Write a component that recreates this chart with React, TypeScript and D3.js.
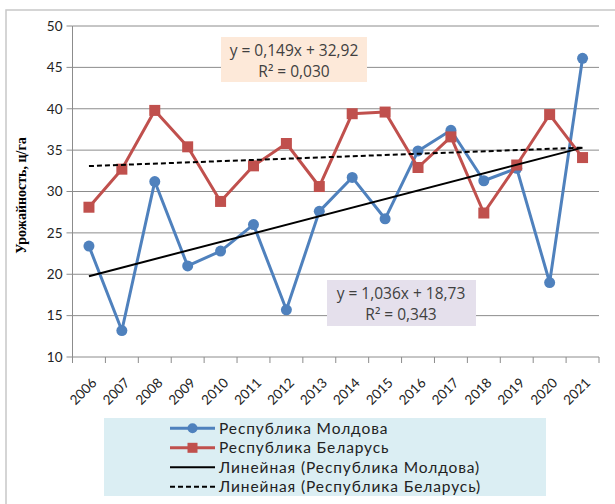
import React from "react";
import * as d3 from "d3";

const years = ["2006","2007","2008","2009","2010","2011","2012","2013","2014","2015","2016","2017","2018","2019","2020","2021"];
const moldova = [23.4,13.2,31.2,21.0,22.8,26.0,15.7,27.6,31.7,26.7,34.9,37.4,31.3,32.8,19.0,46.1];
const belarus = [28.1,32.7,39.8,35.4,28.8,33.1,35.8,30.6,39.4,39.6,32.9,36.6,27.4,33.2,39.3,34.1];
const yTicks = [10,15,20,25,30,35,40,45,50];
const trendMoldova = [1.036, 18.73];
const trendBelarus = [0.149, 32.92];
const eqMoldova = ["y = 1,036x + 18,73", "R² = 0,343"];
const eqBelarus = ["y = 0,149x + 32,92", "R² = 0,030"];
const legendLabels = ["Республика Молдова","Республика Беларусь","Линейная (Республика Молдова)","Линейная (Республика Беларусь)"];

const W = 615, H = 504;
const left = 72.5, right = 599, top = 26, bottom = 357;
const FONT = "Lato, 'Open Sans', sans-serif";
const FONT2 = "'Open Sans', Lato, sans-serif";
const BLUE = "#4F81BD", RED = "#C0504D";

export default function App() {
  const x = d3.scaleBand().domain(years).range([left, right]);
  const cx = (i: number) => (x(years[i]) as number) + x.bandwidth() / 2;
  const y = d3.scaleLinear().domain([10, 50]).range([bottom, top]);
  const line = d3.line<number>().x((_, i) => cx(i)).y(d => y(d));
  const trend = (c: number[]) => {
    const n = years.length;
    return `M${cx(0)},${y(c[0] * 1 + c[1])}L${cx(n - 1)},${y(c[0] * n + c[1])}`;
  };
  const boundaries = d3.range(years.length + 1).map(i => left + i * x.step());

  return (
    <svg width={W} height={H} style={{ position: "absolute", left: 0, top: 0, background: "#fff" }}>
      <rect x={6} y={10} width={640} height={520} fill="#fff" stroke="#c8c8c8" strokeWidth={1.5} />
      {yTicks.map(t => (
        <g key={t}>
          {t > 10 && <line x1={left} x2={right} y1={y(t)} y2={y(t)} stroke="#8c8c8c" strokeWidth={1} />}
          <line x1={left - 6} x2={left} y1={y(t)} y2={y(t)} stroke="#8c8c8c" strokeWidth={1} />
          <text x={left - 10} y={y(t)} dy="0.36em" textAnchor="end" fontFamily={FONT} fontSize={13.5} fill="#222">{t}</text>
        </g>
      ))}
      <line x1={left} x2={left} y1={top} y2={bottom} stroke="#8c8c8c" strokeWidth={1} />
      <line x1={left} x2={right} y1={bottom} y2={bottom} stroke="#8c8c8c" strokeWidth={1} />
      {boundaries.map((b, i) => (
        <line key={i} x1={b} x2={b} y1={bottom} y2={bottom + 6} stroke="#8c8c8c" strokeWidth={1} />
      ))}
      {years.map((yr, i) => (
        <text key={yr} transform={`translate(${cx(i) + 2},${bottom + 20}) rotate(-45)`} textAnchor="end" dy="0.7em" fontFamily={FONT} fontSize={13.5} fill="#222">{yr}</text>
      ))}
      <text transform={`translate(26,${(top + bottom) / 2 + 4}) rotate(-90)`} textAnchor="middle" fontFamily="'Liberation Serif', 'Times New Roman', serif" fontWeight="bold" fontSize={14} fill="#000">Урожайность, ц/га</text>

      <rect x={221} y={37} width={146} height={45} fill="#FDE9D9" />
      <text x={294} y={56} textAnchor="middle" fontFamily={FONT2} fontSize={15.5} fill="#404040">{eqBelarus[0]}</text>
      <text x={294} y={77} textAnchor="middle" fontFamily={FONT2} fontSize={15.5} fill="#404040">{eqBelarus[1]}</text>

      <path d={line(moldova) as string} fill="none" stroke={BLUE} strokeWidth={3} strokeLinejoin="round" />
      {moldova.map((v, i) => <circle key={i} cx={cx(i)} cy={y(v)} r={5.5} fill={BLUE} />)}
      <path d={line(belarus) as string} fill="none" stroke={RED} strokeWidth={3} strokeLinejoin="round" />
      {belarus.map((v, i) => <rect key={i} x={cx(i) - 5.5} y={y(v) - 5.5} width={11} height={11} fill={RED} />)}

      <path d={trend(trendMoldova)} stroke="#000" strokeWidth={2} fill="none" />
      <path d={trend(trendBelarus)} stroke="#000" strokeWidth={2} strokeDasharray="5,3" fill="none" />

      <rect x={327} y={280} width={149} height={46} fill="#E5E0EC" />
      <text x={401} y={299} textAnchor="middle" fontFamily={FONT2} fontSize={15.5} fill="#404040">{eqMoldova[0]}</text>
      <text x={401} y={320} textAnchor="middle" fontFamily={FONT2} fontSize={15.5} fill="#404040">{eqMoldova[1]}</text>

      <rect x={104} y={418} width={442} height={78} fill="#DBEEF3" />
      {legendLabels.map((lab, i) => {
        const ly = 428.3 + i * 19.5;
        return (
          <g key={lab}>
            {i === 0 && <><line x1={170} x2={215} y1={ly} y2={ly} stroke={BLUE} strokeWidth={3} /><circle cx={192.5} cy={ly} r={5} fill={BLUE} /></>}
            {i === 1 && <><line x1={170} x2={215} y1={ly} y2={ly} stroke={RED} strokeWidth={3} /><rect x={187.5} y={ly - 5} width={10} height={10} fill={RED} /></>}
            {i === 2 && <line x1={170} x2={215} y1={ly} y2={ly} stroke="#000" strokeWidth={2} />}
            {i === 3 && <line x1={170} x2={215} y1={ly} y2={ly} stroke="#000" strokeWidth={2} strokeDasharray="5,3" />}
            <text x={219} y={ly} dy="0.36em" fontFamily={FONT} fontSize={15.5} letterSpacing={0.9} fill="#222">{lab}</text>
          </g>
        );
      })}
    </svg>
  );
}
